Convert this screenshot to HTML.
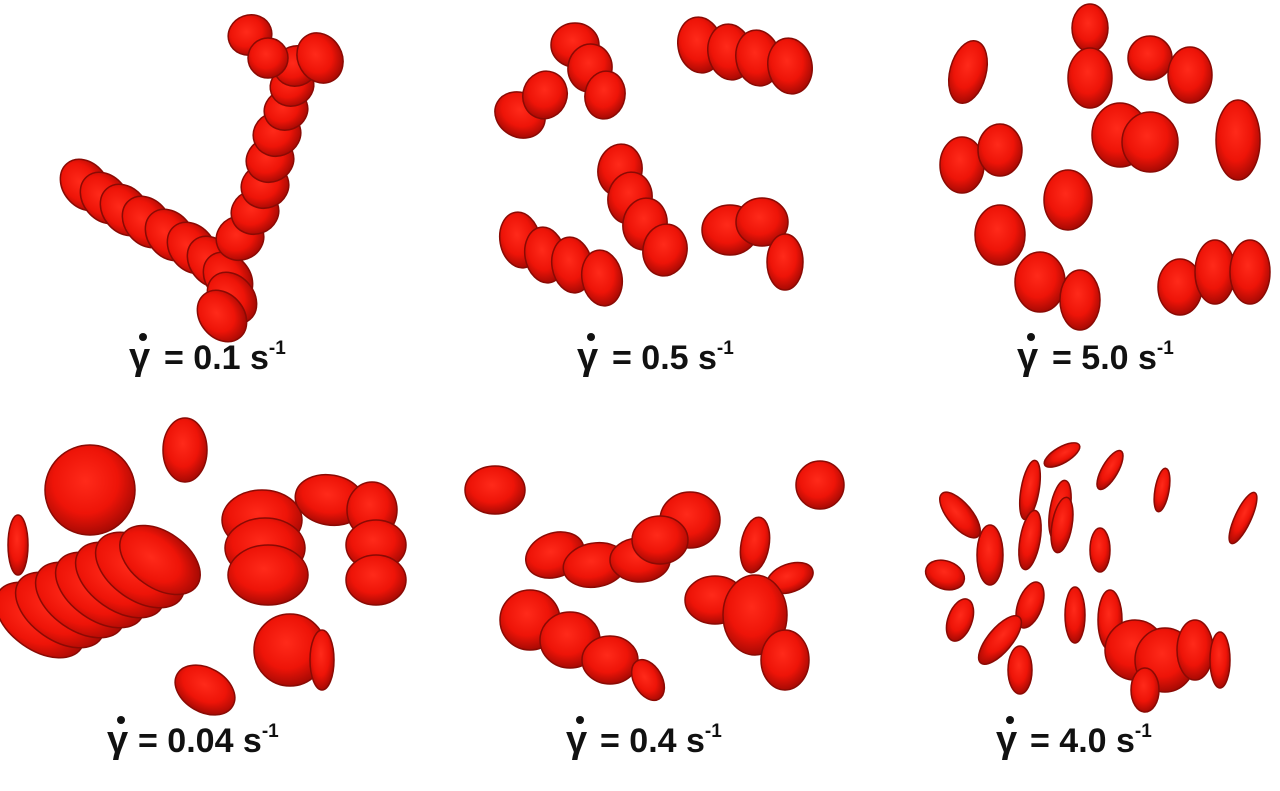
<!DOCTYPE html>
<html><head><meta charset="utf-8">
<style>
html,body{margin:0;padding:0;background:#fff;}
svg{display:block;}
.lbl{font-family:"Liberation Sans",sans-serif;font-weight:bold;font-size:34px;fill:#111;}
.gam{font-family:"Liberation Sans","DejaVu Sans",sans-serif;font-weight:bold;font-size:38px;fill:#111;}
.sup{font-size:19px;}
</style></head>
<body>
<svg id="fig" width="1280" height="791" viewBox="0 0 1280 791">
<defs>
<radialGradient id="g" cx="45%" cy="40%" r="60%">
<stop offset="0" stop-color="#ff2a1a"/><stop offset="0.6" stop-color="#ee1408"/><stop offset="1" stop-color="#a80a04"/>
</radialGradient>
</defs>
<g id="cells"></g>
<g><text class="gam" x="129" y="369">γ</text><circle cx="143" cy="337" r="4" fill="#111"/><text class="lbl" x="164" y="369">= 0.1 s<tspan class="sup" dy="-15">-1</tspan></text></g>
<g><text class="gam" x="577" y="369">γ</text><circle cx="591" cy="337" r="4" fill="#111"/><text class="lbl" x="612" y="369">= 0.5 s<tspan class="sup" dy="-15">-1</tspan></text></g>
<g><text class="gam" x="1017" y="369">γ</text><circle cx="1031" cy="337" r="4" fill="#111"/><text class="lbl" x="1052" y="369">= 5.0 s<tspan class="sup" dy="-15">-1</tspan></text></g>
<g><text class="gam" x="107" y="752">γ</text><circle cx="121" cy="720" r="4" fill="#111"/><text class="lbl" x="138" y="752">= 0.04 s<tspan class="sup" dy="-15">-1</tspan></text></g>
<g><text class="gam" x="566" y="752">γ</text><circle cx="580" cy="720" r="4" fill="#111"/><text class="lbl" x="600" y="752">= 0.4 s<tspan class="sup" dy="-15">-1</tspan></text></g>
<g><text class="gam" x="996" y="752">γ</text><circle cx="1010" cy="720" r="4" fill="#111"/><text class="lbl" x="1030" y="752">= 4.0 s<tspan class="sup" dy="-15">-1</tspan></text></g>
</svg>
<script>
// cell data: [cx, cy, rx, ry, rotation]
const rouleauxCells = [
[85,185,22,28,-40],[105,198,22,28,-40],[125,210,22,28,-40],[147,222,22,28,-40],[170,235,22,28,-40],[192,248,22,28,-40],[212,262,22,28,-40],[228,278,22,28,-40],[232,298,22,28,-40],[222,316,22,28,-40],
[240,238,24,22,-20],[255,212,24,22,-20],[265,186,24,22,-20],[270,160,24,22,-20],[277,134,24,22,-20],[286,110,22,20,-20],[292,86,22,20,-20],[296,66,22,20,-20],[250,35,22,20,-20],[268,58,20,20,0],[320,58,22,26,-30],
[520,115,26,22,30],[545,95,22,24,20],[575,45,24,22,0],[590,68,22,24,10],[605,95,20,24,10],
[700,45,22,28,-10],[730,52,22,28,-10],[758,58,22,28,-10],[790,66,22,28,-10],
[620,170,22,26,10],[630,198,22,26,10],[645,224,22,26,10],[665,250,22,26,10],
[520,240,20,28,-10],[545,255,20,28,-10],[572,265,20,28,-10],[602,278,20,28,-10],
[730,230,28,25,0],[762,222,26,24,0],[785,262,18,28,0],
[968,72,18,32,15],[1090,28,18,24,0],[1090,78,22,30,0],[1150,58,22,22,0],[1190,75,22,28,0],[1120,135,28,32,0],[1150,142,28,30,0],[1238,140,22,40,0],
[962,165,22,28,0],[1000,150,22,26,0],[1068,200,24,30,0],[1000,235,25,30,0],[1040,282,25,30,0],[1080,300,20,30,0],[1180,287,22,28,0],[1215,272,20,32,0],[1250,272,20,32,0]
];
const diskCells = [
[90,490,45,45,0],[185,450,22,32,0],[18,545,10,30,0],
[40,620,30,50,-55],[60,610,30,50,-55],[80,600,30,50,-55],[100,590,30,50,-55],[120,580,30,50,-55],[140,570,30,50,-55],[160,560,28,45,-55],
[262,520,40,30,0],[265,548,40,30,0],[268,575,40,30,0],[330,500,35,25,10],[372,510,25,28,0],[376,545,30,25,0],[376,580,30,25,0],
[290,650,36,36,0],[322,660,12,30,0],[205,690,32,22,30],
[495,490,30,24,0],[820,485,24,24,0],
[555,555,30,22,-20],[595,565,32,22,-10],[640,560,30,22,0],[690,520,30,28,0],[660,540,28,24,0],[755,545,14,28,10],[790,578,24,14,-20],
[530,620,30,30,0],[570,640,30,28,0],[610,660,28,24,0],[648,680,14,22,-30],[715,600,30,24,0],[755,615,32,40,0],[785,660,24,30,0],
[1062,455,8,20,60],[1030,490,9,30,10],[1060,510,10,30,10],[1110,470,8,22,30],[1162,490,7,22,10],[1243,518,8,28,25],
[960,515,12,28,-40],[990,555,13,30,0],[945,575,20,14,20],[1030,540,10,30,10],[1062,525,10,28,10],[1100,550,10,22,0],
[1030,605,12,24,20],[1000,640,12,30,40],[960,620,12,22,20],[1075,615,10,28,0],[1020,670,12,24,0],
[1110,620,12,30,0],[1135,650,30,30,0],[1165,660,30,32,0],[1195,650,18,30,0],[1220,660,10,28,0],[1145,690,14,22,0]
];
const g = document.getElementById('cells');
const NS = 'http://www.w3.org/2000/svg';
function draw(arr, name){
  arr.forEach(c=>{
    const e = document.createElementNS(NS,'ellipse');
    e.setAttribute('cx',c[0]);e.setAttribute('cy',c[1]);e.setAttribute('rx',c[2]);e.setAttribute('ry',c[3]);
    e.setAttribute('transform','rotate('+c[4]+' '+c[0]+' '+c[1]+')');
    e.setAttribute('fill','url(#g)');e.setAttribute('stroke','#8a0a04');e.setAttribute('stroke-width','1.5');
    
    
    g.appendChild(e);
  });
}
draw(rouleauxCells,'rbc-cell');
draw(diskCells,'rbc-disk');
</script>
</body></html>
